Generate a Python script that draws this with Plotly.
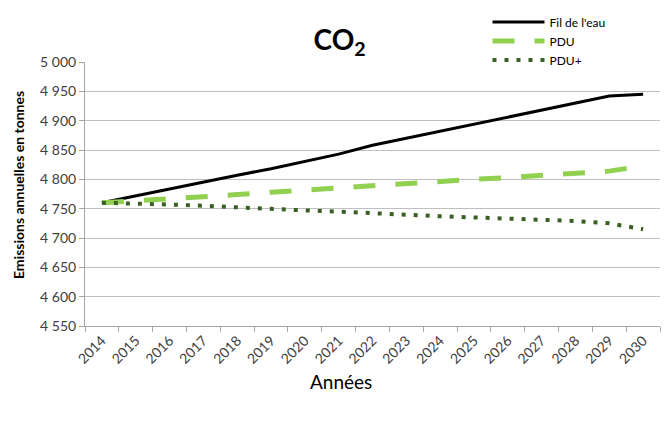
import plotly.graph_objects as go

annees = [str(a) for a in range(2014, 2031)]
fil_de_leau = [4760, 4772, 4784, 4796, 4807, 4818, 4830, 4843, 4858, 4870, 4882,
               4893, 4905, 4918, 4929, 4942, 4945]
pdu = [4760, 4763, 4767, 4770, 4774, 4778, 4782, 4785, 4789, 4792, 4796,
       4800, 4803, 4806, 4810, 4814, 4823]
pdu_plus = [4760, 4759, 4757, 4755, 4752, 4750, 4747, 4745, 4742, 4740, 4737,
            4735, 4733, 4731, 4729, 4725, 4715]

police = "Lato, Open Sans, sans-serif"

fig = go.Figure()
fig.add_trace(go.Scatter(x=annees, y=fil_de_leau, name="Fil de l'eau", mode="lines",
                         line=dict(color="black", width=3)))
fig.add_trace(go.Scatter(x=annees, y=pdu, name="PDU", mode="lines",
                         line=dict(color="#92d050", width=5, dash="22px,20px")))
fig.add_trace(go.Scatter(x=annees, y=pdu_plus, name="PDU+", mode="lines",
                         line=dict(color="#3a5f23", width=4, dash="4px,8px")))

# la légende descend un peu dans la zone du graphe pour ne pas pousser la marge haute
fig.update_layout(
    width=666, height=422,
    margin=dict(l=85, r=6, t=62, b=96),
    paper_bgcolor="white", plot_bgcolor="white",
    separators=", ",
    font=dict(family=police, color="#404040"),
    title=dict(text="<b>CO<sub>2</sub></b>", x=0.51, xanchor="center", y=0.905, yanchor="middle",
               font=dict(size=28, color="black", family=police)),
    legend=dict(x=0.70, y=0.953, xanchor="left", yanchor="bottom",
                bgcolor="rgba(0,0,0,0)", itemwidth=52,
                font=dict(size=12, color="black"), tracegroupgap=0),
    showlegend=True,
)
fig.update_xaxes(type="category", range=[-0.5, 16.5], tickson="boundaries", ticks="outside",
                 ticklen=5, tickcolor="#a6a6a6", tickangle=-45, automargin=False,
                 tickfont=dict(size=14, color="#404040"),
                 showline=True, linecolor="#a6a6a6", linewidth=1, showgrid=False)
fig.update_yaxes(range=[4550, 5000], dtick=50, tickformat=",d", ticks="outside", ticklen=5,
                 tickcolor="#a6a6a6", tickfont=dict(size=14, color="#404040"), automargin=False,
                 showline=True, linecolor="#a6a6a6", linewidth=1,
                 showgrid=True, gridcolor="#bfbfbf", gridwidth=1, zeroline=False)

fig.add_annotation(text="Années", xref="paper", yref="paper", x=0.445, y=-0.212,
                   xanchor="center", yanchor="middle",
                   showarrow=False, font=dict(size=19, color="black"))
fig.add_annotation(text="<b>Emissions annuelles en tonnes</b>", xref="paper", yref="paper",
                   x=-0.1165, y=0.534, xanchor="center", yanchor="middle", textangle=-90,
                   showarrow=False, font=dict(size=14, color="black"))

fig.write_html("out.html", config={"displayModeBar": False},
               post_script="document.body.style.margin='0';")
